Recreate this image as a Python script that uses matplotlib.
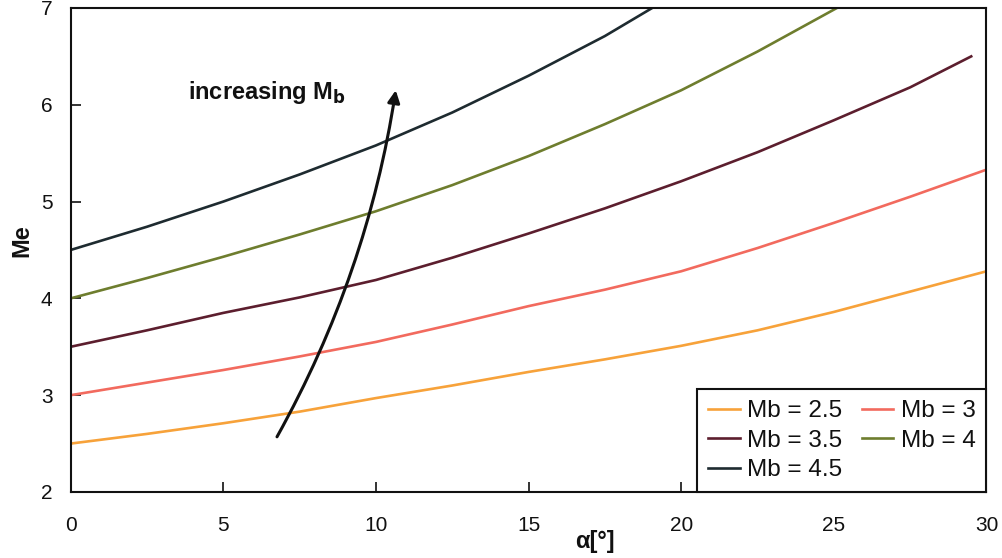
import numpy as np
import matplotlib
matplotlib.use("Agg")
import matplotlib.pyplot as plt

plt.rcParams['font.family'] = ['Liberation Sans', 'DejaVu Sans']

# valores (alpha em graus, Me)
x_25 = [0, 2.5, 5, 7.5, 10, 12.5, 15, 17.5, 20, 22.5, 25, 27.5, 30]
me_25 = [2.50, 2.60, 2.71, 2.83, 2.97, 3.10, 3.24, 3.37, 3.51, 3.67, 3.86, 4.07, 4.28]

x_3 = [0, 2.5, 5, 7.5, 10, 12.5, 15, 17.5, 20, 22.5, 25, 27.5, 30]
me_3 = [3.00, 3.13, 3.26, 3.40, 3.55, 3.73, 3.92, 4.09, 4.28, 4.52, 4.78, 5.05, 5.33]

x_35 = [0, 2.5, 5, 7.5, 10, 12.5, 15, 17.5, 20, 22.5, 25, 27.5, 29.5]
me_35 = [3.50, 3.67, 3.85, 4.01, 4.19, 4.42, 4.67, 4.93, 5.21, 5.51, 5.84, 6.18, 6.50]

x_4 = [0, 2.5, 5, 7.5, 10, 12.5, 15, 17.5, 20, 22.5, 25.1]
me_4 = [4.00, 4.21, 4.43, 4.66, 4.90, 5.17, 5.47, 5.80, 6.15, 6.55, 7.00]

x_45 = [0, 2.5, 5, 7.5, 10, 12.5, 15, 17.5, 19.05]
me_45 = [4.50, 4.74, 5.00, 5.28, 5.58, 5.92, 6.30, 6.71, 7.00]

labels = ["Mb = 2.5", "Mb = 3", "Mb = 3.5", "Mb = 4", "Mb = 4.5"]
colors = ["#F7A23A", "#F26A5E", "#5C1E2E", "#6E7D2E", "#1E2B30"]

xticks = [0, 5, 10, 15, 20, 25, 30]
yticks = [2, 3, 4, 5, 6, 7]

fig = plt.figure(figsize=(10.02, 5.58), dpi=100)
ax = fig.add_axes([0.0705, 0.1183, 0.914, 0.8674])

series = [(x_25, me_25), (x_3, me_3), (x_35, me_35), (x_4, me_4), (x_45, me_45)]
lines = []
for (xs, ys), lab, c in zip(series, labels, colors):
	l, = ax.plot(xs, ys, color=c, lw=1.9, label=lab, solid_joinstyle='round')
	lines.append(l)

ax.set_xlim(0, 30)
ax.set_ylim(2, 7)
ax.set_xticks(xticks)
ax.set_yticks(yticks)
ax.tick_params(direction='in', length=7, width=1.2, labelsize=15, colors='#111111')
ax.tick_params(axis='x', pad=17)
ax.tick_params(axis='y', pad=13)
for s in ax.spines.values():
	s.set_linewidth(1.5)
	s.set_color('#111111')

ax.set_ylabel("Me", fontsize=17, fontweight='bold', color='#111111')
ax.yaxis.set_label_coords(-0.041, 0.519)
ax.set_xlabel("α[°]", fontsize=17, fontweight='bold', color='#111111')
ax.xaxis.set_label_coords(0.573, -0.078)

# seta curva "increasing Mb"
ax.annotate("", xy=(10.65, 6.15), xytext=(6.76, 2.57),
	arrowprops=dict(arrowstyle='-|>', color='#111111', lw=2.2,
		mutation_scale=18, connectionstyle='arc3,rad=0.09', shrinkA=0, shrinkB=0))
ax.text(3.85, 6.13, "increasing M$_\\mathbf{b}$", fontsize=17, fontweight='bold',
	ha='left', va='center', color='#111111')

# legenda em 2 colunas, ordem por linha
order = [0, 2, 4, 1, 3]
leg = ax.legend([lines[i] for i in order], [labels[i] for i in order], ncol=2,
	loc='lower right', borderaxespad=0, fancybox=False, fontsize=17.5,
	handlelength=1.3, handletextpad=0.3, columnspacing=0.8, labelspacing=0.3,
	borderpad=0.45, framealpha=1)
leg.get_frame().set_edgecolor('#111111')
leg.get_frame().set_linewidth(1.5)
for t in leg.get_texts():
	t.set_color('#111111')

plt.savefig("out.png", dpi=100)
